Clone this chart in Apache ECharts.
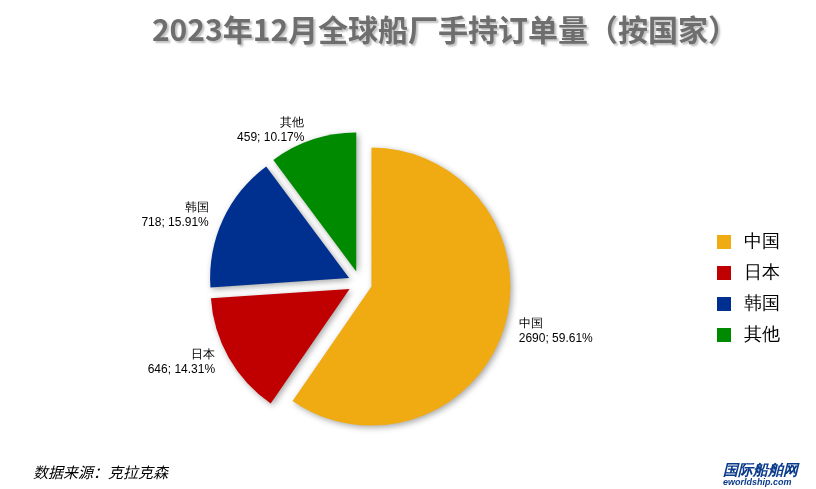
<!DOCTYPE html><html><head><meta charset="utf-8"><script src="https://cdn.jsdelivr.net/npm/echarts@6/dist/echarts.min.js"></script></head><body style="margin:0"><div id="c" style="width:816px;height:489px"></div><script>
const categories=['中国','日本','韩国','其他'];
const values=[2690,646,718,459];
const percents=['59.61%','14.31%','15.91%','10.17%'];
const colors=['#f0aa12','#c00000','#00308f','#008a00'];
const chart=echarts.init(document.getElementById('c'));
chart.setOption({
 animation:false,
 title:[{text:'2023年12月全球船厂手持订单量（按国家）',left:440,top:10,textAlign:'center',textStyle:{fontSize:30,fontWeight:'bold',color:'#6e6e6e',fontFamily:'Noto Sans CJK SC',textShadowColor:'rgba(0,0,0,0.25)',textShadowOffsetX:2,textShadowOffsetY:2,textShadowBlur:2}},
 {text:'数据来源：克拉克森',left:28,top:460,textStyle:{fontSize:15,fontStyle:'italic',fontWeight:'normal',color:'#000',fontFamily:'Noto Sans CJK SC'}},
 {text:'国际船舶网',subtext:'eworldship.com',left:718,top:458,itemGap:0,textStyle:{fontSize:15,fontWeight:'bold',color:'#0a3a8a',fontStyle:'italic'},subtextStyle:{fontSize:9,color:'#0a3a8a',fontStyle:'italic',fontWeight:'bold'}}],
 legend:{orient:'vertical',left:712,top:228,itemWidth:14,itemHeight:14,itemGap:13,icon:'rect',textStyle:{fontSize:18,color:'#000',padding:[0,0,0,8]},data:categories},
 series:[{type:'pie',center:[360,283],radius:[0,139],startAngle:90,clockwise:true,selectedMode:'multiple',selectedOffset:12,
  label:{position:'outside',fontSize:12,color:'#000',lineHeight:15,align:'center',formatter:p=>p.name+'\n'+p.value+'; '+percents[p.dataIndex]},
  labelLine:{show:false,length:10,length2:0},
  itemStyle:{shadowBlur:6,shadowColor:'rgba(0,0,0,0.35)',shadowOffsetX:2,shadowOffsetY:2},
  data:categories.map((n,i)=>({name:n,value:values[i],selected:true,itemStyle:{color:colors[i]}}))}]
});
</script></body></html>
